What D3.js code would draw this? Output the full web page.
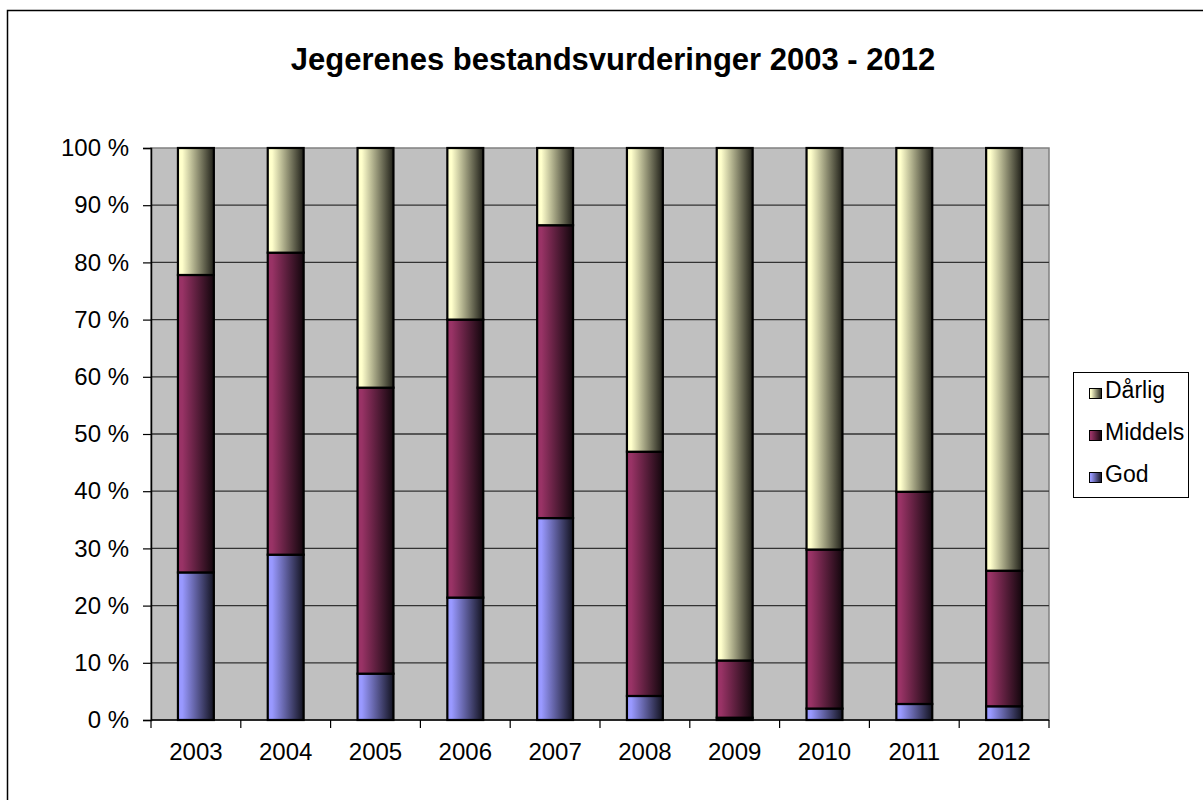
<!DOCTYPE html>
<html>
<head>
<meta charset="utf-8">
<script src="https://cdn.jsdelivr.net/npm/d3@7"></script>
<style>
  body { margin: 0; background: #fff; }
  text { font-family: "Liberation Sans", Arial, sans-serif; fill: #000; }
</style>
</head>
<body>
<svg id="chart" width="1203" height="800"></svg>
<script>
// data (percent of answers per year)
const years = ["2003", "2004", "2005", "2006", "2007", "2008", "2009", "2010", "2011", "2012"];
const god = [25.8, 28.9, 8.1, 21.4, 35.3, 4.2, 0.4, 2.0, 2.8, 2.4];
const middels = [52.0, 52.8, 50.0, 48.6, 51.2, 42.7, 10.0, 27.8, 37.1, 23.7];
const darlig = [22.2, 18.3, 41.9, 30.0, 13.5, 53.1, 89.6, 70.2, 60.1, 73.9];
const seriesNames = ["God", "Middels", "Dårlig"];
const yTicks = [0, 10, 20, 30, 40, 50, 60, 70, 80, 90, 100];

const colors = { "God": "#9999FF", "Middels": "#993366", "Dårlig": "#FFFFCC" };

const svg = d3.select("#chart");
const plot = { left: 151, top: 148, right: 1049, bottom: 720 };

// outer chart frame
svg.append("rect")
  .attr("x", 7.5).attr("y", 10.5)
  .attr("width", 1220).attr("height", 820)
  .attr("fill", "#fff").attr("stroke", "#000").attr("stroke-width", 1.5);

// gradients for the bars
const defs = svg.append("defs");
seriesNames.forEach((name, i) => {
  const c = d3.color(colors[name]);
  const g = defs.append("linearGradient")
    .attr("id", "grad" + i)
    .attr("x1", "0%").attr("x2", "100%").attr("y1", "0%").attr("y2", "0%");
  g.append("stop").attr("offset", "0%").attr("stop-color", c.formatHex());
  g.append("stop").attr("offset", "12%").attr("stop-color", c.formatHex());
  g.append("stop").attr("offset", "100%").attr("stop-color", d3.interpolateRgb(c, "#000")(0.88));
});

// title
svg.append("text")
  .attr("x", 613).attr("y", 70)
  .attr("text-anchor", "middle")
  .style("font-size", "31px")
  .style("font-weight", "bold")
  .text("Jegerenes bestandsvurderinger 2003 - 2012");

const x = d3.scaleBand()
  .domain(years)
  .range([plot.left, plot.right])
  .paddingInner(0.6)
  .paddingOuter(0.3);

const y = d3.scaleLinear()
  .domain([0, 100])
  .range([plot.bottom, plot.top]);

// plot background
svg.append("rect")
  .attr("x", plot.left).attr("y", plot.top)
  .attr("width", plot.right - plot.left).attr("height", plot.bottom - plot.top)
  .attr("fill", "#C0C0C0")
  .attr("stroke", "#808080").attr("stroke-width", 1.5);

// gridlines
svg.append("g")
  .selectAll("line")
  .data(yTicks.filter(d => d > 0 && d < 100))
  .enter()
  .append("line")
  .attr("x1", plot.left).attr("x2", plot.right)
  .attr("y1", d => y(d)).attr("y2", d => y(d))
  .attr("stroke", "#333").attr("stroke-width", 1.3);

// stacked bars
const table = years.map((yr, i) => ({ year: yr, "God": god[i], "Middels": middels[i], "Dårlig": darlig[i] }));
const stacked = d3.stack().keys(seriesNames)(table);

stacked.forEach((layer, i) => {
  svg.append("g")
    .selectAll("rect")
    .data(layer)
    .enter()
    .append("rect")
    .attr("x", d => x(d.data.year))
    .attr("y", d => y(d[1]))
    .attr("width", x.bandwidth())
    .attr("height", d => y(d[0]) - y(d[1]))
    .attr("fill", "url(#grad" + i + ")")
    .attr("stroke", "#000")
    .attr("stroke-width", 2.2);
});

// y axis
const yAxis = svg.append("g")
  .attr("transform", "translate(" + plot.left + ",0)")
  .call(d3.axisLeft(y).tickValues(yTicks).tickSize(8).tickPadding(14).tickFormat(d => d + " %"));
yAxis.select(".domain").attr("stroke", "#000").attr("stroke-width", 1.5);
yAxis.selectAll(".tick line").attr("stroke", "#000").attr("stroke-width", 1.2);
yAxis.selectAll("text").style("font-size", "24px").attr("fill", "#000")
  .style("font-family", "'Liberation Sans', Arial, sans-serif");

// x axis with tick marks between categories
const xAxis = svg.append("g")
  .attr("transform", "translate(0," + plot.bottom + ")");
xAxis.append("line")
  .attr("x1", plot.left).attr("x2", plot.right)
  .attr("stroke", "#000").attr("stroke-width", 1.5);
const step = x.step();
xAxis.selectAll("line.tick")
  .data(years.concat(["end"]))
  .enter()
  .append("line")
  .attr("class", "tick")
  .attr("x1", (d, i) => plot.left + i * step)
  .attr("x2", (d, i) => plot.left + i * step)
  .attr("y1", 0).attr("y2", 8)
  .attr("stroke", "#000").attr("stroke-width", 1.2);
xAxis.selectAll("text")
  .data(years)
  .enter()
  .append("text")
  .attr("x", d => x(d) + x.bandwidth() / 2)
  .attr("y", 40)
  .attr("text-anchor", "middle")
  .style("font-size", "24px")
  .text(d => d);

// legend
const legend = svg.append("g");
legend.append("rect")
  .attr("x", 1073.5).attr("y", 372.5)
  .attr("width", 115).attr("height", 125)
  .attr("fill", "#fff").attr("stroke", "#000").attr("stroke-width", 1);
const legendItems = seriesNames.slice().reverse();
legendItems.forEach((name, i) => {
  const base = 398 + i * 42;
  const idx = seriesNames.indexOf(name);
  legend.append("rect")
    .attr("x", 1089.5).attr("y", base - 9.5)
    .attr("width", 12).attr("height", 10)
    .attr("fill", "url(#grad" + idx + ")")
    .attr("stroke", "#000").attr("stroke-width", 1);
  legend.append("text")
    .attr("x", 1105).attr("y", base)
    .style("font-size", "23px")
    .text(name);
});
</script>
</body>
</html>
